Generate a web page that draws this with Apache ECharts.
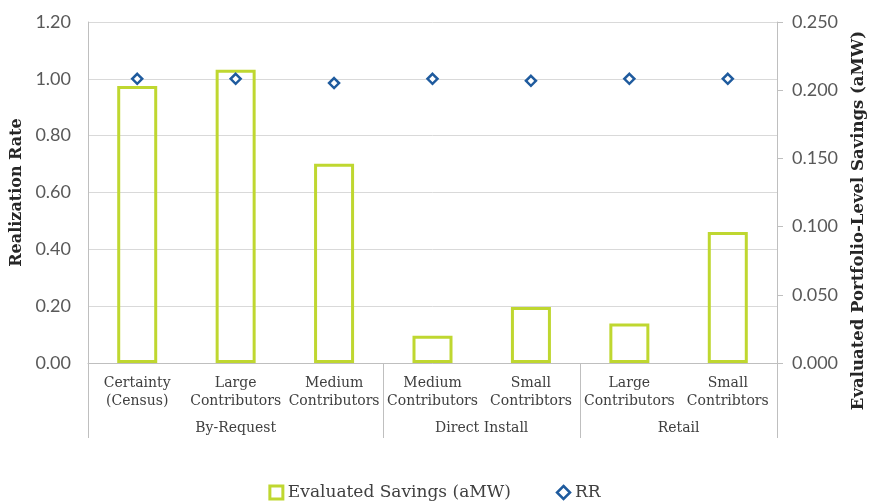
<!DOCTYPE html>
<html>
<head>
<meta charset="utf-8">
<script src="https://cdn.jsdelivr.net/npm/echarts@6/dist/echarts.min.js"></script>
<style>
  html, body { margin: 0; padding: 0; background: #fff; }
  #chart { width: 869px; height: 502px; }
</style>
</head>
<body>
<div id="chart"></div>
<script>
var categories = ['Certainty\n(Census)', 'Large\nContributors', 'Medium\nContributors',
  'Medium\nContributors', 'Small\nContribtors', 'Large\nContributors', 'Small\nContribtors'];
var groups = ['By-Request', 'Direct Install', 'Retail'];
var groupCenters = [1.5, 4, 6];
var groupEdges = [0, 3, 5, 7];
var savings = [0.203, 0.215, 0.146, 0.020, 0.041, 0.029, 0.096];
var rr = [1.00, 1.00, 0.985, 1.00, 0.993, 1.00, 1.00];

var serif = 'DejaVu Serif';
var sans = 'Lato';

var myChart = echarts.init(document.getElementById('chart'));
var option = {
  backgroundColor: '#ffffff',
  animation: false,
  grid: { left: 88, right: 92, top: 22, bottom: 139, outerBoundsMode: 'none' },
  legend: {
    top: 479,
    itemWidth: 13,
    itemHeight: 13,
    itemGap: 45,
    textStyle: { fontFamily: serif, fontSize: 17, color: '#404040' },
    data: [
      { name: 'Evaluated Savings (aMW)', icon: 'rect', itemStyle: { borderWidth: 3 } },
      { name: 'RR', icon: 'diamond', itemStyle: { borderWidth: 2.5 } }
    ]
  },
  xAxis: [
    {
      type: 'category',
      data: categories,
      axisLine: { lineStyle: { color: '#bfbfbf', width: 1 } },
      axisTick: { show: false },
      axisLabel: {
        interval: 0,
        margin: 11,
        fontFamily: serif,
        fontSize: 14,
        lineHeight: 18,
        color: '#404040'
      }
    },
    {
      // group level below the categories
      type: 'value',
      position: 'bottom',
      min: 0,
      max: 7,
      axisLine: { show: false },
      splitLine: { show: false },
      axisTick: {
        show: true,
        customValues: groupEdges,
        length: 75,
        lineStyle: { color: '#bfbfbf' }
      },
      axisLabel: {
        customValues: groupCenters,
        margin: 58,
        fontFamily: serif,
        fontSize: 14,
        color: '#404040',
        formatter: function (v) { return groups[groupCenters.indexOf(v)]; }
      }
    }
  ],
  yAxis: [
    {
      type: 'value',
      min: 0,
      max: 1.2,
      interval: 0.2,
      name: 'Realization Rate',
      nameLocation: 'middle',
      nameGap: 62,
      nameTextStyle: { fontFamily: serif, fontSize: 16, fontWeight: 'bold', color: '#262626' },
      axisLine: { show: true, lineStyle: { color: '#bfbfbf' } },
      axisTick: { show: false },
      splitLine: { lineStyle: { color: '#d9d9d9' } },
      axisLabel: {
        margin: 17,
        fontFamily: sans,
        fontSize: 18,
        color: '#595959',
        formatter: function (v) { return v.toFixed(2); }
      }
    },
    {
      type: 'value',
      position: 'right',
      min: 0,
      max: 0.25,
      interval: 0.05,
      name: 'Evaluated Portfolio-Level Savings (aMW)',
      nameLocation: 'middle',
      nameRotate: 90,
      nameGap: 73,
      nameTextStyle: { fontFamily: serif, fontSize: 16.5, fontWeight: 'bold', color: '#262626', padding: [0, 56, 0, 0] },
      axisLine: { show: true, lineStyle: { color: '#bfbfbf' } },
      axisTick: { show: true, length: 6, lineStyle: { color: '#bfbfbf' } },
      splitLine: { show: false },
      axisLabel: {
        margin: 15,
        fontFamily: sans,
        fontSize: 18,
        color: '#595959',
        formatter: function (v) { return v.toFixed(3); }
      }
    }
  ],
  series: [
    {
      name: 'Evaluated Savings (aMW)',
      type: 'bar',
      xAxisIndex: 0,
      yAxisIndex: 1,
      data: savings,
      barWidth: 40,
      itemStyle: { color: 'transparent', borderColor: '#bfd730', borderWidth: 3 }
    },
    {
      name: 'RR',
      type: 'scatter',
      xAxisIndex: 0,
      yAxisIndex: 0,
      data: rr,
      symbol: 'diamond',
      symbolSize: 10,
      itemStyle: { color: '#ffffff', borderColor: '#1f5b9e', borderWidth: 2.5, opacity: 1 },
      z: 5
    }
  ]
};
myChart.setOption(option);
</script>
</body>
</html>
